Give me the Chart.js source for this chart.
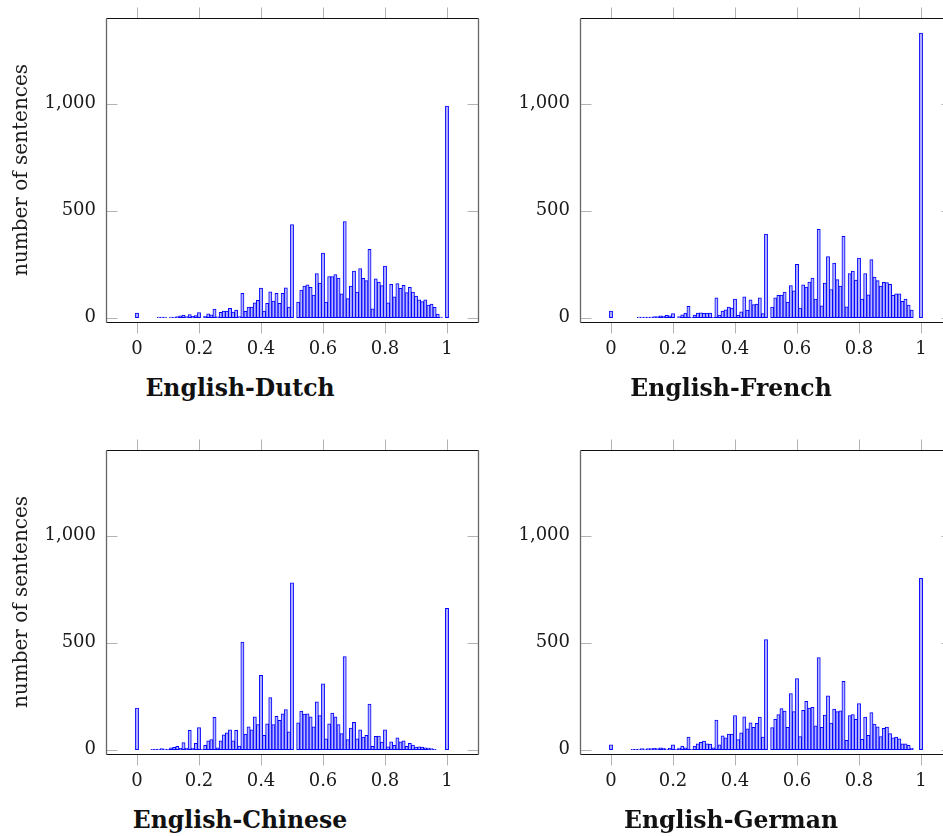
<!DOCTYPE html>
<html>
<head>
<meta charset="utf-8">
<script src="https://cdn.jsdelivr.net/npm/chart.js@4.4.1/dist/chart.umd.min.js"></script>
<style>
  html, body { margin: 0; padding: 0; background: #fff; }
  body { width: 943px; height: 836px; position: relative; overflow: hidden; }
  canvas { position: absolute; }
  .pair-title {
    position: absolute; width: 400px; margin-left: -200px; text-align: center;
    font: bold 23.5px/23px 'DejaVu Serif', serif; color: #111;
  }
</style>
</head>
<body>
<canvas id="chart-nl" width="480" height="370" style="left:0;top:0"></canvas>
<canvas id="chart-fr" width="480" height="370" style="left:474px;top:0"></canvas>
<canvas id="chart-zh" width="480" height="370" style="left:0;top:432px"></canvas>
<canvas id="chart-de" width="480" height="370" style="left:474px;top:432px"></canvas>
<div class="pair-title" style="left:240px;top:377px">English-Dutch</div>
<div class="pair-title" style="left:731px;top:377px">English-French</div>
<div class="pair-title" style="left:240px;top:809px">English-Chinese</div>
<div class="pair-title" style="left:731px;top:809px">English-German</div>
<script>
// histogram bins: centres 0, 0.01, ... 1
const binStart = 0;
const binStep = 0.01;
const binCentres = Array.from({ length: 101 }, (_, i) => +(binStart + i * binStep).toFixed(2));

const xTicks = [0, 0.2, 0.4, 0.6, 0.8, 1];
const xTickLabels = ['0', '0.2', '0.4', '0.6', '0.8', '1'];
const yTicks = [0, 500, 1000];
const yTickLabels = ['0', '500', '1,000'];

// number of sentences per bin
const dutchCounts = [
  22, 0, 0, 0, 0, 0, 0, 3, 3, 3,
  0, 3, 3, 5, 9, 12, 5, 15, 6, 10,
  24, 0, 8, 18, 14, 40, 4, 25, 31, 31,
  44, 26, 36, 5, 114, 30, 50, 50, 69, 81,
  139, 31, 67, 121, 78, 114, 67, 114, 140, 50,
  435, 0, 73, 129, 148, 154, 142, 106, 206, 162,
  302, 73, 192, 192, 202, 185, 111, 449, 89, 148,
  218, 120, 229, 184, 173, 319, 42, 182, 167, 150,
  241, 69, 156, 97, 160, 137, 151, 117, 142, 120,
  101, 84, 75, 84, 59, 64, 48, 17, 3, 0,
  988
];
const frenchCounts = [
  31, 0, 0, 0, 0, 0, 0, 0, 0, 3,
  3, 3, 3, 3, 5, 5, 9, 8, 11, 9,
  19, 0, 5, 14, 22, 53, 3, 12, 22, 23,
  20, 22, 22, 2, 93, 12, 31, 37, 50, 45,
  87, 11, 28, 97, 36, 84, 61, 64, 93, 19,
  391, 0, 50, 93, 104, 106, 120, 73, 150, 126,
  249, 45, 154, 143, 167, 185, 87, 413, 56, 162,
  285, 132, 255, 178, 148, 380, 51, 206, 218, 176,
  279, 87, 206, 107, 271, 190, 173, 148, 165, 164,
  156, 104, 111, 111, 76, 87, 59, 36, 0, 0,
  1330
];
const chineseCounts = [
  195, 0, 0, 0, 0, 2, 2, 3, 5, 3,
  2, 9, 11, 16, 6, 33, 8, 90, 8, 30,
  103, 2, 20, 41, 47, 151, 9, 42, 69, 79,
  93, 42, 90, 17, 503, 73, 107, 93, 154, 118,
  347, 67, 121, 243, 118, 156, 137, 168, 188, 84,
  780, 0, 126, 181, 167, 168, 154, 107, 224, 160,
  308, 51, 121, 171, 154, 117, 75, 435, 47, 101,
  128, 51, 93, 59, 67, 213, 16, 62, 64, 36,
  93, 14, 37, 20, 56, 37, 41, 16, 30, 22,
  12, 14, 12, 9, 8, 5, 2, 0, 0, 0,
  660
];
const germanCounts = [
  23, 0, 0, 0, 0, 0, 0, 2, 2, 3,
  5, 3, 5, 5, 6, 5, 9, 8, 3, 6,
  23, 2, 8, 17, 9, 59, 2, 17, 28, 34,
  40, 28, 26, 9, 139, 23, 65, 56, 73, 73,
  160, 47, 79, 154, 97, 126, 104, 123, 153, 59,
  514, 0, 103, 142, 164, 192, 181, 104, 262, 178,
  332, 61, 184, 226, 195, 198, 112, 430, 104, 162,
  252, 125, 190, 178, 182, 319, 44, 159, 164, 142,
  215, 48, 153, 67, 173, 120, 107, 61, 100, 106,
  75, 55, 59, 51, 28, 28, 20, 8, 0, 0,
  800
];

const textColor = '#1a1a1a';
const tickFont = { family: "'DejaVu Serif', serif", size: 18 };

// pgfplots-like box: x ticks outside, y ticks inside, on all four sides
const frameTicks = {
  id: 'frameTicks',
  afterDatasetsDraw(chart) {
    const { ctx, chartArea: a, scales: { x, y } } = chart;
    const snap = v => Math.round(v) + 0.5;
    const top = snap(a.top), bottom = snap(a.bottom), left = snap(a.left), right = snap(a.right);
    ctx.save();
    ctx.lineWidth = 1;
    ctx.strokeStyle = '#b3b3b3';
    ctx.beginPath();
    xTicks.forEach(v => {
      const px = snap(x.getPixelForValue(v));
      ctx.moveTo(px, top - 11); ctx.lineTo(px, top);
      ctx.moveTo(px, bottom); ctx.lineTo(px, bottom + 11);
    });
    yTicks.forEach(v => {
      const py = snap(y.getPixelForValue(v));
      ctx.moveTo(left, py); ctx.lineTo(left + 11, py);
      ctx.moveTo(right - 11, py); ctx.lineTo(right, py);
    });
    ctx.stroke();

    ctx.strokeStyle = '#111';
    ctx.beginPath();
    ctx.moveTo(left, top); ctx.lineTo(right, top);
    ctx.moveTo(left, bottom); ctx.lineTo(right, bottom);
    ctx.stroke();
    ctx.strokeStyle = '#666';
    ctx.lineWidth = 1.3;
    ctx.beginPath();
    ctx.moveTo(left, top); ctx.lineTo(left, bottom);
    ctx.moveTo(right, top); ctx.lineTo(right, bottom);
    ctx.stroke();
    ctx.restore();
  }
};

function makePanel(id, counts, withYTitle) {
  return new Chart(document.getElementById(id), {
    type: 'bar',
    data: {
      datasets: [{
        data: counts.map((c, i) => ({ x: binCentres[i], y: c })),
        backgroundColor: 'rgb(179, 179, 255)',
        borderColor: '#0000ff',
        borderWidth: 1,
        borderSkipped: false,
        barThickness: 3.2
      }]
    },
    options: {
      responsive: false,
      animation: false,
      layout: { padding: { top: 18, right: 2, bottom: 0, left: 0 } },
      plugins: { legend: { display: false }, tooltip: { enabled: false } },
      scales: {
        x: {
          type: 'linear',
          min: -0.1,
          max: 1.1,
          offset: false,
          grid: { display: false, drawTicks: false },
          border: { display: false },
          afterBuildTicks: s => { s.ticks = xTicks.map(v => ({ value: v })); },
          afterFit: s => { s.height = 48; s.paddingLeft = 0; s.paddingRight = 0; },
          ticks: {
            padding: 17, maxRotation: 0, autoSkip: false,
            font: tickFont, color: textColor,
            callback: (v, i) => xTickLabels[i]
          }
        },
        y: {
          min: -20,
          max: 1400,
          grid: { display: false, drawTicks: false },
          border: { display: false },
          afterBuildTicks: s => { s.ticks = yTicks.map(v => ({ value: v })); },
          // fixed axis box, no extra room for the top label
          afterFit: s => { s.width = 106; s.paddingTop = 0; s.paddingBottom = 0; },
          ticks: {
            padding: 10, font: tickFont, color: textColor,
            callback: (v, i) => yTickLabels[i]
          },
          title: {
            display: withYTitle,
            text: 'number of sentences',
            color: textColor,
            font: { family: "'DejaVu Serif', serif", size: 20 },
            padding: { top: 10, bottom: 0 }
          }
        }
      }
    },
    plugins: [frameTicks]
  });
}

document.addEventListener('DOMContentLoaded', () => {
  makePanel('chart-nl', dutchCounts, true);
  makePanel('chart-fr', frenchCounts, false);
  makePanel('chart-zh', chineseCounts, true);
  makePanel('chart-de', germanCounts, false);
});
</script>
</body>
</html>
